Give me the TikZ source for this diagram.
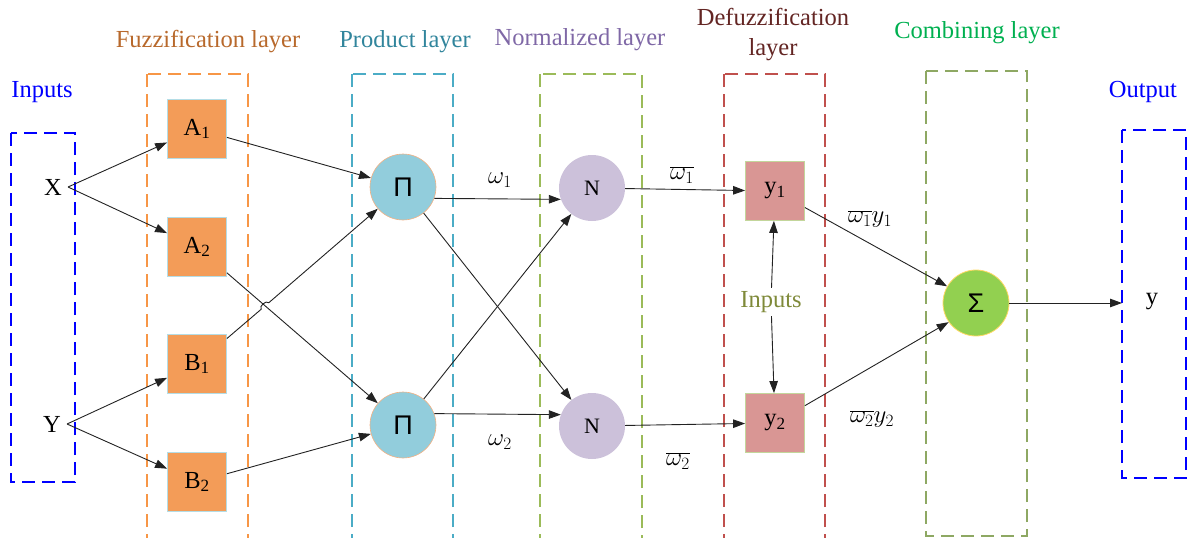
\documentclass[tikz,border=0pt]{standalone}
\usepackage{fontspec}
\setmainfont{Liberation Serif}
\newfontfamily\greekfont{Liberation Sans}
\usetikzlibrary{arrows.meta, calc}

\definecolor{inblue}{HTML}{0000FF}
\definecolor{fuzzline}{HTML}{F79646}
\definecolor{fuzztext}{HTML}{B8692C}
\definecolor{fuzzfill}{HTML}{F39C58}
\definecolor{mfedge}{HTML}{B4DDE6}
\definecolor{prodline}{HTML}{4BACC6}
\definecolor{prodtext}{HTML}{31859C}
\definecolor{prodfill}{HTML}{92CDDC}
\definecolor{prodedge}{HTML}{F4B183}
\definecolor{normline}{HTML}{9BBB59}
\definecolor{normtext}{HTML}{7F68A6}
\definecolor{normfill}{HTML}{CCC1DA}
\definecolor{defline}{HTML}{C0504D}
\definecolor{deftext}{HTML}{632523}
\definecolor{deffill}{HTML}{D99694}
\definecolor{defedge}{HTML}{C3D69B}
\definecolor{combline}{HTML}{8EA863}
\definecolor{combtext}{HTML}{00B050}
\definecolor{sumfill}{HTML}{92D050}
\definecolor{sumedge}{HTML}{FFD966}
\definecolor{midtext}{HTML}{7F8A3A}
\definecolor{linegray}{HTML}{222222}

\tikzset{
  layerbox/.style={dash pattern=on 13pt off 7pt, line width=1.5pt},
  mfbox/.style={rectangle, fill=fuzzfill, draw=mfedge, line width=0.8pt,
    minimum size=59pt, inner sep=0pt},
  prodnode/.style={circle, fill=prodfill, draw=prodedge, line width=0.6pt,
    minimum size=66pt, inner sep=0pt, font=\fontsize{27}{30}\greekfont},
  normnode/.style={circle, fill=normfill, minimum size=66pt, inner sep=0pt,
    font=\fontsize{22}{26}\selectfont},
  defbox/.style={rectangle, fill=deffill, draw=defedge, line width=0.8pt,
    minimum size=59pt, inner sep=0pt},
  sumnode/.style={circle, fill=sumfill, draw=sumedge, line width=0.8pt,
    minimum size=66pt, inner sep=0pt, font=\fontsize{27}{30}\greekfont},
  varnode/.style={inner sep=6pt},
  conn/.style={-{Triangle[length=12pt,width=8.5pt]}, line width=0.9pt, draw=linegray},
}

\begin{document}
\begin{tikzpicture}[x=1pt, y=-1pt, font=\fontsize{24.5}{29}\selectfont]
\clip (0,0) rectangle (1189,538);

% Layer frames
\draw[layerbox, draw=inblue, line width=1.8pt] (11,133) rectangle (75,482);
\draw[layerbox, draw=fuzzline] (147,74) rectangle (248,560);
\draw[layerbox, draw=prodline] (352,74) rectangle (453,560);
\draw[layerbox, draw=normline] (540,74) rectangle (642,560);
\draw[layerbox, draw=defline] (724,74) rectangle (825,560);
\draw[layerbox, draw=combline] (926,71) rectangle (1027,536);
\draw[layerbox, draw=inblue, line width=1.8pt] (1122,130) rectangle (1186,478);

% Layer titles
\node[text=inblue] (tin) at (42,92) {Inputs};
\node[text=fuzztext] (tfuzz) at (208,42) {Fuzzification layer};
\node[text=prodtext] (tprod) at (405,42) {Product layer};
\node[text=normtext] (tnorm) at (580,40) {Normalized layer};
\node[text=deftext, align=center, font=\fontsize{24.5}{30}\selectfont] (tdef) at (773,35) {Defuzzification\\layer};
\node[text=combtext] (tcomb) at (977,33) {Combining layer};
\node[text=inblue] (tout) at (1143,92) {Output};

% Inputs
\node[varnode] (X) at (53,187) {X};
\node[varnode] (Y) at (52,424) {Y};

% Membership functions
\node[mfbox] (A1) at (197,129) {A\textsubscript{1}};
\node[mfbox] (A2) at (197,247) {A\textsubscript{2}};
\node[mfbox] (B1) at (197,364) {B\textsubscript{1}};
\node[mfbox] (B2) at (197,482) {B\textsubscript{2}};

% Product and normalization
\node[prodnode] (P1) at (403,187) {Π};
\node[prodnode] (P2) at (403,425) {Π};
\node[normnode] (N1) at (592,188) {N};
\node[normnode] (N2) at (592,426) {N};

% Defuzzification
\node[defbox] (y1) at (775,191) {y\textsubscript{1}};
\node[defbox] (y2) at (775,423) {y\textsubscript{2}};
\node[text=midtext] (mid) at (771,302) {Inputs};

% Sum and output
\node[sumnode] (S) at (976,303) {Σ};
\node (yout) at (1152,302) {y};
\coordinate (outin) at (1122,303);

% Connections
\draw[conn] (X.east) -- (A1);
\draw[conn] (X.east) -- (A2);
\draw[conn] (Y.east) -- (B1);
\draw[conn] (Y.east) -- (B2);
\draw[conn] (A1) -- (P1);
\draw[conn] (A2) -- (P2);
\coordinate (jmp) at (265,306);
\draw[conn] (B1) -- ($(jmp)!5pt!(B1)$) to[bend left=90] ($(jmp)!5pt!(P1)$) -- (P1);
\draw[conn] (B2) -- (P2);
\draw[conn] (P1.-20) -- (N1.-160);
\draw[conn] (P1) -- (N2);
\draw[conn] (P2) -- (N1);
\draw[conn] (P2.20) -- (N2.160);
\draw[conn] (N1) -- (y1);
\draw[conn] (N2) -- (y2);
\draw[conn] (mid) -- (y1);
\draw[conn] (mid) -- (y2);
\draw[conn] (y1) -- (S.150);
\draw[conn] (y2) -- (S.215);
\draw[conn] (S) -- (outin);

% Connector labels
\node (w1) at (500,180) {$\omega_1$};
\node (w2) at (500,442) {$\omega_2$};
\node (nw1) at (682,175) {$\overline{\omega_1}$};
\node (nw2) at (678,461) {$\overline{\omega_2}$};
\node (wy1) at (870,219) {$\overline{\omega_1}y_1$};
\node (wy2) at (872,419) {$\overline{\omega_2}y_2$};
\end{tikzpicture}
\end{document}
